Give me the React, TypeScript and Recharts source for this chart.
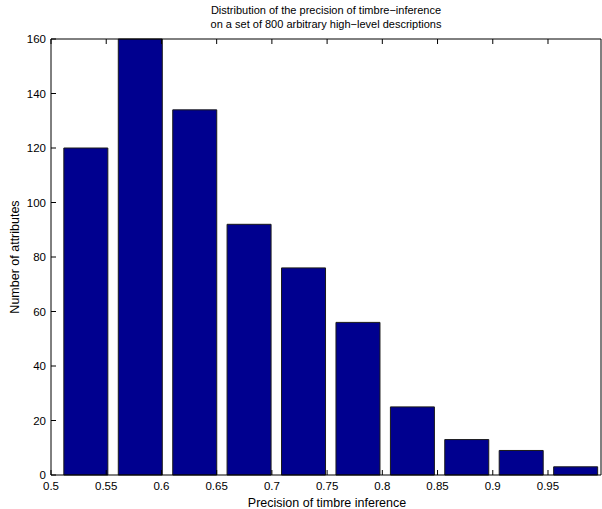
import { BarChart, Bar, XAxis, YAxis } from 'recharts';

// histogram bin centres (hist with 10 bins) and counts
const binCenters = [0.5317, 0.581, 0.6303, 0.6795, 0.7288, 0.7781, 0.8274, 0.8766, 0.9259, 0.9752];
const counts = [120, 160, 134, 92, 76, 56, 25, 13, 9, 3];
const xTicks = [0.5, 0.55, 0.6, 0.65, 0.7, 0.75, 0.8, 0.85, 0.9, 0.95];
const yTicks = [0, 20, 40, 60, 80, 100, 120, 140, 160];

const data = binCenters.map((x, i) => ({ x, count: counts[i] }));

const font = '"Liberation Sans", Arial, Helvetica, sans-serif';

const BottomTick = (props: any) => {
  const { x, y, payload } = props;
  return (
    <g>
      <line x1={x} x2={x} y1={y} y2={y - 5} stroke="#000" />
      <text x={x} y={y + 15} textAnchor="middle" fontSize={11.5} fontFamily={font} fill="#000">
        {payload.value}
      </text>
    </g>
  );
};

const TopTick = (props: any) => {
  const { x, y } = props;
  return <line x1={x} x2={x} y1={y} y2={y + 5} stroke="#000" />;
};

const LeftTick = (props: any) => {
  const { x, y, payload } = props;
  return (
    <g>
      <line x1={x} x2={x + 5} y1={y} y2={y} stroke="#000" />
      <text x={x - 5} y={y + 4} textAnchor="end" fontSize={11.5} fontFamily={font} fill="#000">
        {payload.value}
      </text>
    </g>
  );
};

const RightTick = (props: any) => {
  const { x, y } = props;
  return <line x1={x} x2={x - 5} y1={y} y2={y} stroke="#000" />;
};

export default function App() {
  return (
    <div style={{ position: 'absolute', left: 0, top: 0, width: 602, height: 509, background: '#fff', fontFamily: font }}>
      <div style={{ position: 'absolute', left: 51, width: 550, top: 3, textAlign: 'center', fontSize: 11, lineHeight: '14px', color: '#000' }}>
        Distribution of the precision of timbre&#8722;inference
        <br />
        on a set of 800 arbitrary high&#8722;level descriptions
      </div>
      <BarChart
        width={602}
        height={509}
        data={data}
        margin={{ top: 38, right: 0, left: 50, bottom: 33 }}
        barCategoryGap={0}
        style={{ overflow: 'visible' }}
      >
        <XAxis
          xAxisId="bottom"
          dataKey="x"
          type="number"
          domain={[0.5, 0.998]}
          ticks={xTicks}
          allowDataOverflow
          height={1}
          tickSize={0}
          tickMargin={0}
          tickLine={false}
          axisLine={{ stroke: '#000' }}
          tick={<BottomTick />}
          interval={0}
        />
        <XAxis
          xAxisId="top"
          orientation="top"
          dataKey="x"
          type="number"
          domain={[0.5, 0.998]}
          ticks={xTicks}
          allowDataOverflow
          height={1}
          tickSize={0}
          tickMargin={0}
          tickLine={false}
          axisLine={{ stroke: '#000' }}
          tick={<TopTick />}
          interval={0}
        />
        <YAxis
          yAxisId="left"
          domain={[0, 160]}
          ticks={yTicks}
          width={1}
          tickSize={0}
          tickMargin={0}
          tickLine={false}
          axisLine={{ stroke: '#000' }}
          tick={<LeftTick />}
          interval={0}
        />
        <YAxis
          yAxisId="right"
          orientation="right"
          domain={[0, 160]}
          ticks={yTicks}
          width={1}
          tickSize={0}
          tickMargin={0}
          tickLine={false}
          axisLine={{ stroke: '#000' }}
          tick={<RightTick />}
          interval={0}
        />
        <Bar
          dataKey="count"
          xAxisId="bottom"
          yAxisId="left"
          barSize={44}
          fill="#00008f"
          stroke="#1a1a1a"
          strokeWidth={1}
          isAnimationActive={false}
        />
      </BarChart>
      <div style={{ position: 'absolute', left: 51, width: 552, top: 496, textAlign: 'center', fontSize: 12.5, lineHeight: '14px', color: '#000' }}>
        Precision of timbre inference
      </div>
      <div
        style={{
          position: 'absolute',
          left: 15,
          top: 257,
          transform: 'translate(-50%, -50%) rotate(-90deg)',
          whiteSpace: 'nowrap',
          fontSize: 12.5,
          color: '#000',
        }}
      >
        Number of attributes
      </div>
    </div>
  );
}
